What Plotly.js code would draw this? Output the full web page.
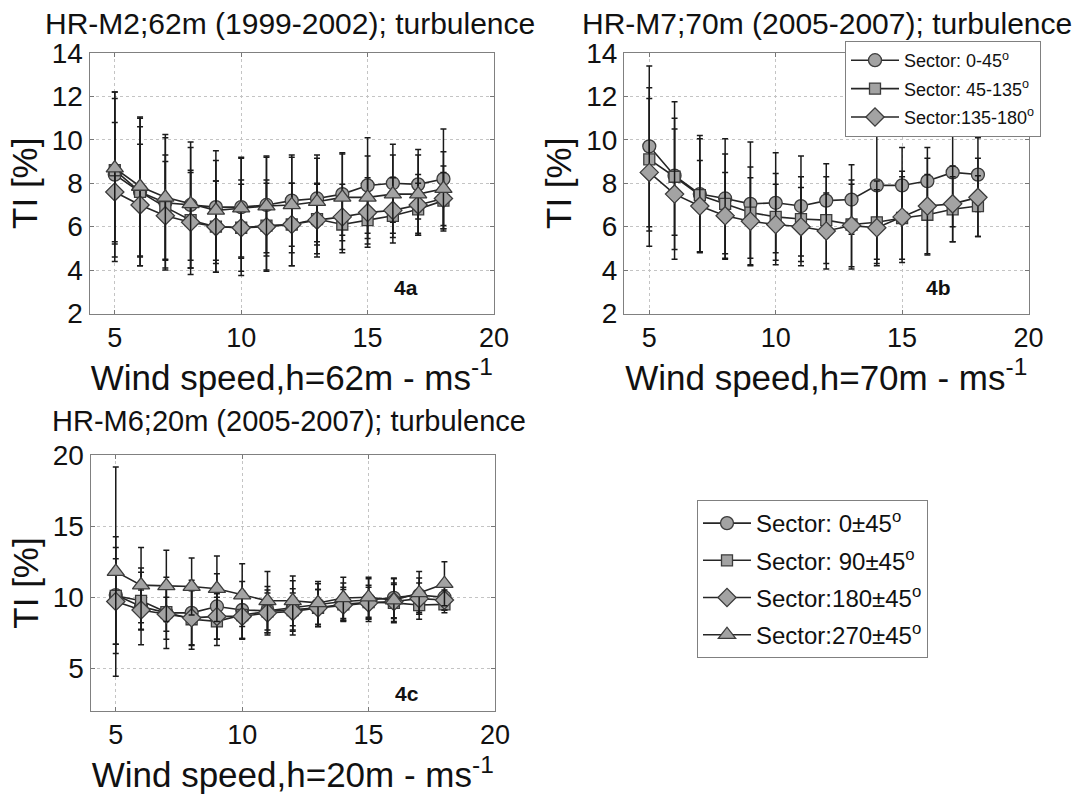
<!DOCTYPE html>
<html>
<head>
<meta charset="utf-8">
<script src="https://cdn.plot.ly/plotly-3.0.1.min.js"></script>
<style>html,body{margin:0;padding:0;background:#fff;}#chart{width:1077px;height:800px;}</style>
</head>
<body>
<div id="chart"></div>
<script>
// ---------- data ----------
const windSpeed = [5, 6, 7, 8, 9, 10, 11, 12, 13, 14, 15, 16, 17, 18];

// Panel 4a : HR-M2 62 m (sectors 0, 90, 180, 270 +/-45)
const a_circle   = [8.4, 7.6, 7.1, 7.0, 6.9, 6.9, 7.0, 7.2, 7.3, 7.5, 7.9, 8.0, 7.95, 8.2];
const a_circleE  = [3.8, 3.4, 3.0, 2.9, 2.6, 2.3, 2.2, 2.1, 2.0, 1.9, 2.2, 1.8, 1.6, 2.3];
const a_square   = [8.6, 7.6, 6.9, 6.3, 6.0, 5.95, 6.05, 6.1, 6.35, 6.1, 6.3, 6.5, 6.8, 7.2];
const a_squareE  = [3.3, 3.0, 2.4, 2.2, 2.1, 2.2, 2.1, 1.9, 1.6, 1.3, 1.1, 1.0, 1.2, 1.3];
const a_diamond  = [7.6, 7.0, 6.5, 6.2, 6.0, 5.95, 6.0, 6.1, 6.3, 6.45, 6.65, 6.75, 7.0, 7.3];
const a_diamondE = [3.2, 2.8, 2.5, 2.4, 2.1, 2.0, 2.0, 1.9, 1.7, 1.5, 1.6, 1.5, 1.4, 1.5];
const a_tri      = [8.7, 7.85, 7.35, 7.05, 6.75, 6.85, 6.95, 7.0, 7.15, 7.35, 7.35, 7.5, 7.5, 7.75];
const a_triE     = [3.5, 3.2, 2.9, 2.6, 2.3, 2.3, 2.3, 2.2, 2.0, 2.0, 1.9, 1.8, 1.8, 1.7];

// Panel 4b : HR-M7 70 m (3 sectors)
const b_circle   = [9.7, 8.35, 7.5, 7.3, 7.05, 7.1, 6.95, 7.2, 7.25, 7.9, 7.9, 8.1, 8.5, 8.4];
const b_circleE  = [3.7, 3.4, 2.7, 2.75, 2.85, 2.3, 2.3, 1.7, 1.6, 3.4, 1.75, 1.55, 2.5, 1.7];
const b_square   = [9.1, 8.3, 7.45, 7.05, 6.65, 6.45, 6.35, 6.3, 6.1, 6.2, 6.4, 6.55, 6.8, 6.95];
const b_squareE  = [3.3, 2.7, 2.6, 2.3, 2.1, 2.0, 1.95, 2.0, 2.05, 1.9, 1.9, 1.85, 1.5, 1.4];
const b_diamond  = [8.5, 7.5, 6.95, 6.5, 6.25, 6.1, 6.0, 5.8, 6.05, 5.95, 6.45, 6.95, 7.05, 7.35];
const b_diamondE = [3.4, 3.0, 2.1, 2.0, 2.0, 1.85, 1.8, 1.75, 1.9, 1.75, 2.1, 2.2, 1.75, 1.8];

// Panel 4c : HR-M6 20 m (4 sectors)
const c_circle   = [10.15, 9.35, 8.9, 8.9, 9.35, 9.1, 9.05, 9.25, 9.45, 9.7, 9.8, 9.95, 10.15, 10.0];
const c_circleE  = [4.1, 2.7, 2.5, 2.3, 2.3, 2.0, 1.7, 1.9, 1.5, 1.3, 1.5, 1.4, 1.2, 0.9];
const c_square   = [10.1, 9.75, 8.95, 8.45, 8.3, 8.75, 9.0, 9.1, 9.25, 9.5, 9.65, 9.6, 9.45, 9.5];
const c_squareE  = [3.4, 2.0, 1.9, 2.1, 1.7, 1.7, 1.5, 1.5, 1.3, 1.2, 1.2, 1.4, 1.0, 0.6];
const c_diamond  = [9.7, 9.1, 8.8, 8.55, 8.65, 8.65, 8.9, 9.0, 9.25, 9.45, 9.6, 9.7, 9.9, 9.8];
const c_diamondE = [3.0, 1.4, 1.2, 1.9, 1.6, 1.55, 1.4, 1.3, 1.3, 1.1, 1.1, 1.2, 1.1, 0.7];
const c_tri      = [11.8, 10.85, 10.8, 10.75, 10.6, 10.15, 9.75, 9.75, 9.6, 9.95, 10.0, 9.8, 10.3, 10.95];
const c_triE     = [7.35, 2.65, 2.5, 2.0, 2.3, 2.2, 2.05, 1.75, 1.5, 1.45, 1.4, 1.5, 1.5, 1.55];

const namesB = ['Sector: 0-45<sup>o</sup>', 'Sector: 45-135<sup>o</sup>', 'Sector:135-180<sup>o</sup>'];
const namesC = ['Sector: 0±45<sup>o</sup>', 'Sector: 90±45<sup>o</sup>', 'Sector:180±45<sup>o</sup>', 'Sector:270±45<sup>o</sup>'];
const panelTitles = ['HR-M2;62m (1999-2002); turbulence', 'HR-M7;70m (2005-2007); turbulence', 'HR-M6;20m (2005-2007); turbulence'];
const xTitles = ['Wind speed,h=62m - ms<sup>-1</sup>', 'Wind speed,h=70m - ms<sup>-1</sup>', 'Wind speed,h=20m - ms<sup>-1</sup>'];
const panelTags = ['4a', '4b', '4c'];

// ---------- styling ----------
const FILL = '#a3a3a3', EDGE = '#3c3c3c', LINE = '#262626';
const symbols = {circle: ['circle', 13], square: ['square', 11], diamond: ['diamond', 14], tri: ['triangle-up', 15]};

function tr(y, err, sym, xa, ya, name, show, legend, group) {
  return {
    x: windSpeed, y: y, type: 'scatter', mode: 'lines+markers',
    xaxis: xa, yaxis: ya, name: name, showlegend: show, legend: legend, legendgroup: group,
    line: {color: LINE, width: 1.6},
    marker: {symbol: symbols[sym][0], size: symbols[sym][1], color: FILL, line: {color: EDGE, width: 1.3}},
    error_y: {type: 'data', array: err, visible: true, color: '#1a1a1a', thickness: 1.5, width: 3},
    hoverinfo: 'x+y'
  };
}

const data = [
  tr(a_circle, a_circleE, 'circle', 'x', 'y', namesC[0], false, 'legend2', 'a1'),
  tr(a_square, a_squareE, 'square', 'x', 'y', namesC[1], false, 'legend2', 'a2'),
  tr(a_diamond, a_diamondE, 'diamond', 'x', 'y', namesC[2], false, 'legend2', 'a3'),
  tr(a_tri, a_triE, 'tri', 'x', 'y', namesC[3], false, 'legend2', 'a4'),
  tr(b_circle, b_circleE, 'circle', 'x2', 'y2', namesB[0], true, 'legend', 'b1'),
  tr(b_square, b_squareE, 'square', 'x2', 'y2', namesB[1], true, 'legend', 'b2'),
  tr(b_diamond, b_diamondE, 'diamond', 'x2', 'y2', namesB[2], true, 'legend', 'b3'),
  tr(c_circle, c_circleE, 'circle', 'x3', 'y3', namesC[0], true, 'legend2', 'c1'),
  tr(c_square, c_squareE, 'square', 'x3', 'y3', namesC[1], true, 'legend2', 'c2'),
  tr(c_diamond, c_diamondE, 'diamond', 'x3', 'y3', namesC[2], true, 'legend2', 'c3'),
  tr(c_tri, c_triE, 'tri', 'x3', 'y3', namesC[3], true, 'legend2', 'c4')
];

const W = 1077, H = 800;
function px2x(p) { return p / W; }
function py2y(p) { return 1 - p / H; }

function xax(domPx, anchor, title) {
  return {
    domain: [px2x(domPx[0]), px2x(domPx[1])], anchor: anchor, range: [4, 20],
    tickvals: [5, 10, 15, 20], ticks: 'inside', ticklen: 4, tickcolor: '#777',
    showline: true, linecolor: '#808080', linewidth: 1, mirror: 'ticks',
    showgrid: true, gridcolor: '#c4c4c4', griddash: 'dot', gridwidth: 1, zeroline: false,
    tickfont: {size: 27, color: '#111'},
    title: {text: title, font: {size: 35, color: '#111'}, standoff: 13},
    automargin: false, fixedrange: true
  };
}
function yax(domPx, anchor, range, vals) {
  return {
    domain: [py2y(domPx[1]), py2y(domPx[0])], anchor: anchor, range: range,
    tickvals: vals, ticks: 'inside', ticklen: 4, tickcolor: '#777',
    showline: true, linecolor: '#808080', linewidth: 1, mirror: 'ticks',
    showgrid: true, gridcolor: '#c4c4c4', griddash: 'dot', gridwidth: 1, zeroline: false,
    tickfont: {size: 28, color: '#111'},
    title: {text: 'TI [%]', font: {size: 35, color: '#111'}, standoff: 3},
    automargin: false, fixedrange: true
  };
}

const annotations = [
  {text: panelTitles[0], xref: 'paper', yref: 'paper', x: px2x(290), y: py2y(23), xanchor: 'center', yanchor: 'middle', showarrow: false, font: {size: 30, color: '#111'}},
  {text: panelTitles[1], xref: 'paper', yref: 'paper', x: px2x(827), y: py2y(23), xanchor: 'center', yanchor: 'middle', showarrow: false, font: {size: 30, color: '#111'}},
  {text: panelTitles[2], xref: 'paper', yref: 'paper', x: px2x(289), y: py2y(421), xanchor: 'center', yanchor: 'middle', showarrow: false, font: {size: 29, color: '#111'}},
  {text: '<b>' + panelTags[0] + '</b>', xref: 'x', yref: 'y', x: 16.5, y: 3.2, showarrow: false, font: {size: 21, color: '#111'}},
  {text: '<b>' + panelTags[1] + '</b>', xref: 'x2', yref: 'y2', x: 16.45, y: 3.2, showarrow: false, font: {size: 21, color: '#111'}},
  {text: '<b>' + panelTags[2] + '</b>', xref: 'x3', yref: 'y3', x: 16.5, y: 3.2, showarrow: false, font: {size: 21, color: '#111'}}
];

const layout = {
  width: W, height: H, autosize: false,
  margin: {l: 0, r: 0, t: 0, b: 0},
  paper_bgcolor: '#ffffff', plot_bgcolor: '#ffffff',
  font: {family: 'Liberation Sans, Arial, sans-serif', color: '#111'},
  xaxis: xax([89.5, 494], 'y', xTitles[0]),
  yaxis: yax([53, 313.5], 'x', [2, 14], [2, 4, 6, 8, 10, 12, 14]),
  xaxis2: xax([624, 1028.5], 'y2', xTitles[1]),
  yaxis2: yax([53, 313.5], 'x2', [2, 14], [2, 4, 6, 8, 10, 12, 14]),
  xaxis3: xax([90.5, 495], 'y3', xTitles[2]),
  yaxis3: yax([455, 711], 'x3', [2, 20], [5, 10, 15, 20]),
  legend: {x: px2x(845), y: py2y(41), xanchor: 'left', yanchor: 'top', bgcolor: '#ffffff',
           bordercolor: '#808080', borderwidth: 1, font: {size: 18, color: '#111'},
           itemwidth: 48, traceorder: 'grouped', tracegroupgap: 2},
  legend2: {x: px2x(697), y: py2y(500), xanchor: 'left', yanchor: 'top', bgcolor: '#ffffff',
            bordercolor: '#808080', borderwidth: 1, font: {size: 24, color: '#111'},
            itemwidth: 48, traceorder: 'grouped', tracegroupgap: 3},
  annotations: annotations,
  showlegend: true
};

Plotly.newPlot('chart', data, layout, {displayModeBar: false, staticPlot: true});
</script>
</body>
</html>
